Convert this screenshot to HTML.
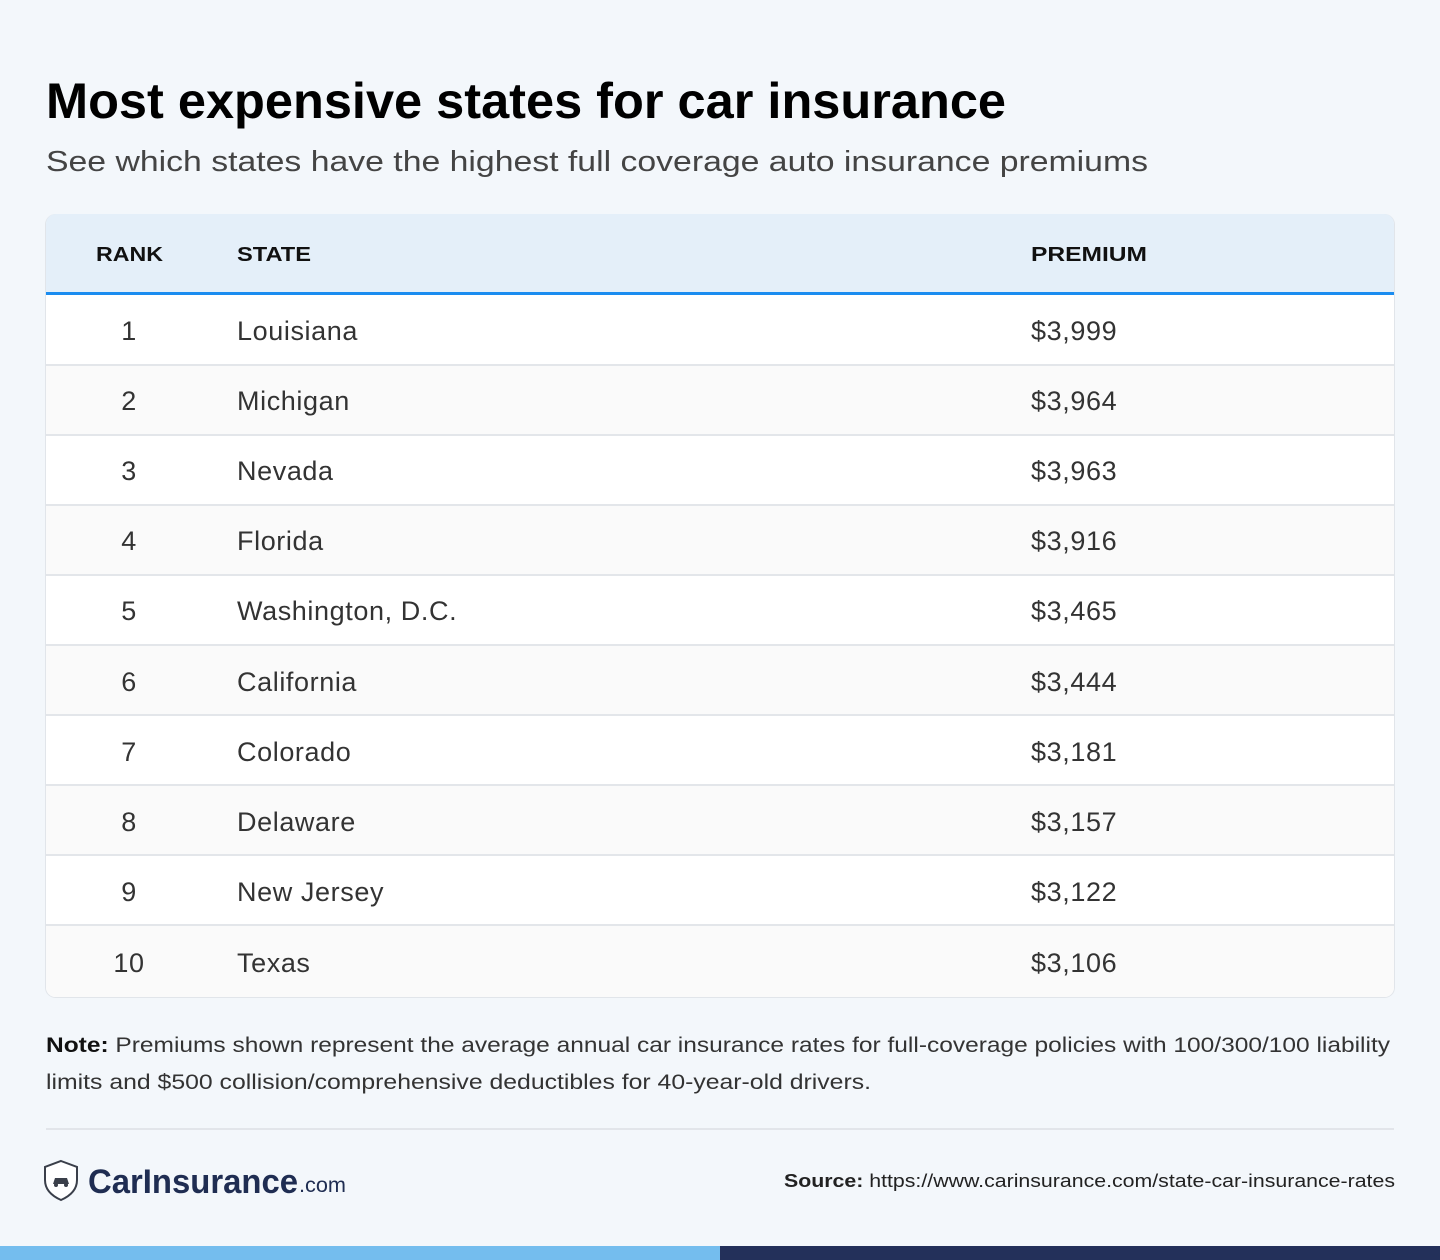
<!DOCTYPE html>
<html><head><meta charset="utf-8"><style>
html,body{margin:0;padding:0;background:#f3f7fb;}
svg{display:block;font-family:"Liberation Sans",sans-serif;}
</style></head><body>
<svg width="1440" height="1260" viewBox="0 0 1440 1260" xmlns="http://www.w3.org/2000/svg">
<rect x="0" y="0" width="1440" height="1260" fill="#f3f7fb"/>
<text x="46" y="118" font-size="50" font-weight="bold" fill="#000" textLength="960" lengthAdjust="spacingAndGlyphs">Most expensive states for car insurance</text>
<text x="46" y="171" font-size="29" fill="#444" textLength="1102" lengthAdjust="spacingAndGlyphs">See which states have the highest full coverage auto insurance premiums</text>
<rect x="45.5" y="214.5" width="1349" height="783" rx="10" fill="#fff" stroke="#e1e5ea"/>
<path d="M46 292 V224 a10 10 0 0 1 10 -10 H1384 a10 10 0 0 1 10 10 V292 Z" fill="#e4eff9"/>
<rect x="46" y="292" width="1348" height="3" fill="#1a8cf0"/>
<g font-size="20" font-weight="bold" fill="#111">
<text x="96" y="261" textLength="67" lengthAdjust="spacingAndGlyphs">RANK</text>
<text x="237" y="261" textLength="74" lengthAdjust="spacingAndGlyphs">STATE</text>
<text x="1031" y="261" textLength="116" lengthAdjust="spacingAndGlyphs">PREMIUM</text>
</g>
<g fill="#fafafa">
<rect x="46" y="365" width="1348" height="70"/>
<rect x="46" y="505" width="1348" height="70"/>
<rect x="46" y="645" width="1348" height="70"/>
<rect x="46" y="785" width="1348" height="70"/>
<path d="M46 925 H1394 V987 a10 10 0 0 1 -10 10 H56 a10 10 0 0 1 -10 -10 Z"/>
</g>
<g fill="#e3e6ea">
<rect x="46" y="364" width="1348" height="2"/>
<rect x="46" y="434" width="1348" height="2"/>
<rect x="46" y="504" width="1348" height="2"/>
<rect x="46" y="574" width="1348" height="2"/>
<rect x="46" y="644" width="1348" height="2"/>
<rect x="46" y="714" width="1348" height="2"/>
<rect x="46" y="784" width="1348" height="2"/>
<rect x="46" y="854" width="1348" height="2"/>
<rect x="46" y="924" width="1348" height="2"/>
</g>
<g font-size="27" fill="#333" letter-spacing="0.6">
<g text-anchor="middle">
<text x="129" y="340">1</text><text x="129" y="410">2</text><text x="129" y="480">3</text><text x="129" y="550">4</text><text x="129" y="620">5</text><text x="129" y="691">6</text><text x="129" y="761">7</text><text x="129" y="831">8</text><text x="129" y="901">9</text><text x="129" y="972">10</text>
</g>
<text x="237" y="340">Louisiana</text>
<text x="237" y="410">Michigan</text>
<text x="237" y="480">Nevada</text>
<text x="237" y="550">Florida</text>
<text x="237" y="620">Washington, D.C.</text>
<text x="237" y="691">California</text>
<text x="237" y="761">Colorado</text>
<text x="237" y="831">Delaware</text>
<text x="237" y="901">New Jersey</text>
<text x="237" y="972">Texas</text>
<text x="1031" y="340">$3,999</text>
<text x="1031" y="410">$3,964</text>
<text x="1031" y="480">$3,963</text>
<text x="1031" y="550">$3,916</text>
<text x="1031" y="620">$3,465</text>
<text x="1031" y="691">$3,444</text>
<text x="1031" y="761">$3,181</text>
<text x="1031" y="831">$3,157</text>
<text x="1031" y="901">$3,122</text>
<text x="1031" y="972">$3,106</text>
</g>
<g font-size="21" fill="#333">
<text x="46" y="1052" textLength="1344" lengthAdjust="spacingAndGlyphs"><tspan font-weight="bold" fill="#111">Note:</tspan> Premiums shown represent the average annual car insurance rates for full-coverage policies with 100/300/100 liability</text>
<text x="46" y="1089" textLength="825" lengthAdjust="spacingAndGlyphs">limits and $500 collision/comprehensive deductibles for 40-year-old drivers.</text>
</g>
<rect x="46" y="1128" width="1348" height="2" fill="#e2e5ea"/>
<path d="M61 1161 L77 1167 V1180 C77 1190 70 1196 61 1200 C52 1196 45 1190 45 1180 V1167 Z" fill="#fff" stroke="#3a3f4a" stroke-width="2"/>
<path d="M53 1184 L55 1178 H67 L69 1184 Z" fill="#3a3f4a"/>
<circle cx="56" cy="1185" r="2" fill="#3a3f4a"/><circle cx="66" cy="1185" r="2" fill="#3a3f4a"/>
<text x="88" y="1193" font-size="34" font-weight="bold" fill="#1f2d52" textLength="210" lengthAdjust="spacingAndGlyphs">CarInsurance</text>
<text x="299" y="1192" font-size="21" fill="#1f2d52" textLength="47" lengthAdjust="spacingAndGlyphs">.com</text>
<text x="1395" y="1187" font-size="18" fill="#222" text-anchor="end" textLength="611" lengthAdjust="spacingAndGlyphs"><tspan font-weight="bold">Source:</tspan> https://www.carinsurance.com/state-car-insurance-rates</text>
<rect x="0" y="1246" width="720" height="14" fill="#74bdee"/>
<rect x="720" y="1246" width="720" height="14" fill="#23305a"/>
</svg>
</body></html>
